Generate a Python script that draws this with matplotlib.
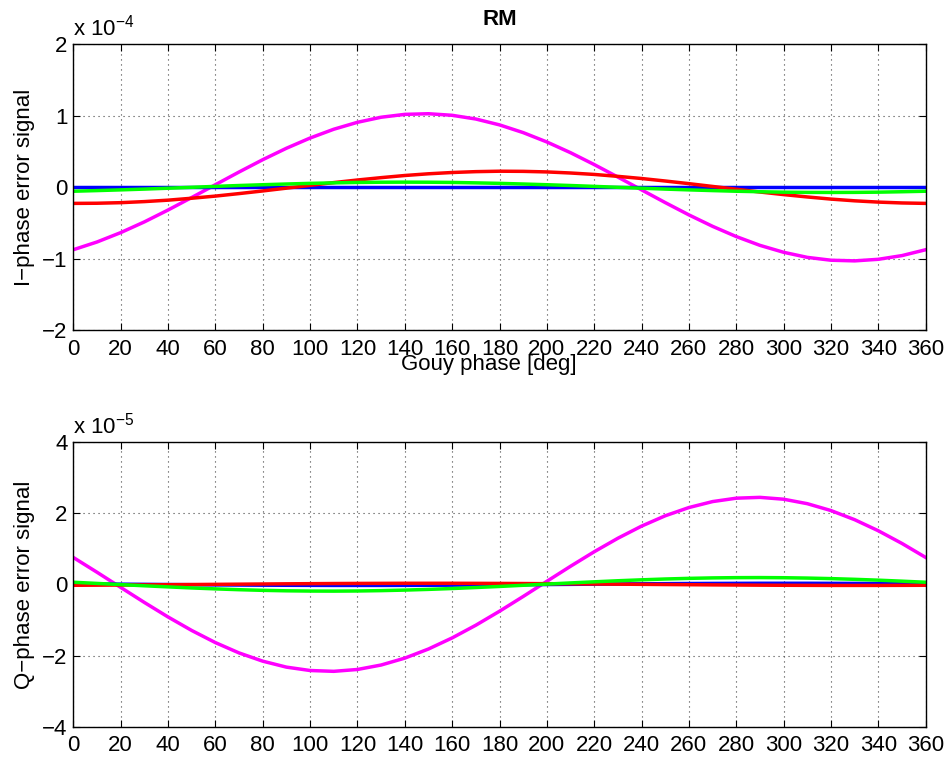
import numpy as np
import matplotlib
matplotlib.use("Agg")
import matplotlib.pyplot as plt

plt.rcParams['font.family'] = ['Liberation Sans', 'DejaVu Sans']
plt.rcParams['mathtext.default'] = 'regular'

# Gouy phase sweep [deg]
gouy = np.arange(0, 361, 10)

# I-phase error signals, units of 1e-4
i_magenta = [-0.873, -0.765, -0.634, -0.484, -0.318, -0.143, 0.036, 0.214, 0.386, 0.546,
             0.689, 0.812, 0.909, 0.980, 1.020, 1.029, 1.007, 0.955, 0.873, 0.765,
             0.634, 0.484, 0.318, 0.143, -0.036, -0.214, -0.386, -0.546, -0.689, -0.812,
             -0.909, -0.980, -1.020, -1.029, -1.007, -0.955, -0.873]
i_red = [-0.225, -0.223, -0.215, -0.200, -0.180, -0.153, -0.123, -0.088, -0.051, -0.012,
         0.027, 0.066, 0.102, 0.135, 0.165, 0.189, 0.207, 0.219, 0.225, 0.223,
         0.215, 0.200, 0.180, 0.153, 0.123, 0.088, 0.051, 0.012, -0.027, -0.066,
         -0.102, -0.135, -0.165, -0.189, -0.207, -0.219, -0.225]
i_green = [-0.055, -0.046, -0.036, -0.025, -0.013, 0.000, 0.013, 0.025, 0.036, 0.046,
           0.055, 0.062, 0.068, 0.071, 0.072, 0.071, 0.068, 0.062, 0.055, 0.046,
           0.036, 0.025, 0.013, 0.000, -0.013, -0.025, -0.036, -0.046, -0.055, -0.062,
           -0.068, -0.071, -0.072, -0.071, -0.068, -0.062, -0.055]
i_blue = [0.0] * 37

# Q-phase error signals, units of 1e-5
q_magenta = [0.754, 0.340, -0.085, -0.507, -0.914, -1.293, -1.633, -1.923, -2.154, -2.321,
             -2.416, -2.439, -2.387, -2.262, -2.069, -1.813, -1.502, -1.146, -0.754, -0.340,
             0.085, 0.507, 0.914, 1.293, 1.633, 1.923, 2.154, 2.321, 2.416, 2.439,
             2.387, 2.262, 2.069, 1.813, 1.502, 1.146, 0.754]
q_green = [0.059, 0.026, -0.007, -0.040, -0.071, -0.101, -0.127, -0.150, -0.168, -0.181,
           -0.188, -0.190, -0.186, -0.176, -0.161, -0.141, -0.117, -0.089, -0.059, -0.026,
           0.007, 0.040, 0.071, 0.101, 0.127, 0.150, 0.168, 0.181, 0.188, 0.190,
           0.186, 0.176, 0.161, 0.141, 0.117, 0.089, 0.059]
q_red = [-0.026, -0.023, -0.019, -0.015, -0.010, -0.005, 0.000, 0.005, 0.010, 0.015,
         0.019, 0.023, 0.026, 0.028, 0.030, 0.030, 0.030, 0.028, 0.026, 0.023,
         0.019, 0.015, 0.010, 0.005, 0.000, -0.005, -0.010, -0.015, -0.019, -0.023,
         -0.026, -0.028, -0.030, -0.030, -0.030, -0.028, -0.026]
q_blue = [0.015, 0.010, 0.005, 0.000, -0.005, -0.010, -0.015, -0.019, -0.023, -0.026,
          -0.028, -0.030, -0.030, -0.030, -0.028, -0.026, -0.023, -0.019, -0.015, -0.010,
          -0.005, 0.000, 0.005, 0.010, 0.015, 0.019, 0.023, 0.026, 0.028, 0.030,
          0.030, 0.030, 0.028, 0.026, 0.023, 0.019, 0.015]

x_ticks = np.arange(0, 361, 20)
i_ticks = [-2, -1, 0, 1, 2]
q_ticks = [-4, -2, 0, 2, 4]

W, H = 953, 761
fig = plt.figure(figsize=(W / 100, H / 100), dpi=100)


def px_axes(left, top, right, bottom):
    return fig.add_axes([left / W, 1 - bottom / H, (right - left) / W, (bottom - top) / H])


ax1 = px_axes(73.3, 44.3, 925.7, 330.3)
ax2 = px_axes(73.3, 441.7, 925.7, 727.0)

LW = 2.5
FS = 16


def style(ax, yticks, exponent, ylabel):
    ax.set_xlim(0, 360)
    ax.set_ylim(yticks[0], yticks[-1])
    ax.set_xticks(x_ticks)
    ax.set_yticks(yticks)
    ax.tick_params(direction='in', length=5, width=0.8, top=True, right=True,
                   labelsize=FS, pad=6, colors='black')
    ax.tick_params(axis='y', pad=4)
    ax.grid(True, color='#444444', linestyle=(0, (1, 3.5)), linewidth=0.8)
    for s in ax.spines.values():
        s.set_linewidth(1.0)
        s.set_color('black')
    ax.set_ylabel(ylabel, fontsize=FS)
    ax.yaxis.set_label_coords(-0.045, 0.5)
    ax.text(0.0, 1.012, 'x 10$^{%d}$' % exponent, transform=ax.transAxes,
            fontsize=FS, ha='left', va='bottom')


for ax, series in ((ax1, (i_magenta, i_blue, i_red, i_green)),
                   (ax2, (q_magenta, q_blue, q_red, q_green))):
    for vals, col in zip(series, ('#ff00ff', '#0000ff', '#ff0000', '#00ff00')):
        ax.plot(gouy, vals, color=col, linewidth=LW, solid_joinstyle='round')

style(ax1, i_ticks, -4, 'I\u2212phase error signal')
style(ax2, q_ticks, -5, 'Q\u2212phase error signal')

ax1.set_title('RM', fontsize=FS, fontweight='bold', pad=14)
ax1.set_xlabel('Gouy phase [deg]', fontsize=FS, va='top')
ax1.xaxis.set_label_coords(0.488, -0.083)

fig.savefig('out.png', dpi=100, facecolor='white')
